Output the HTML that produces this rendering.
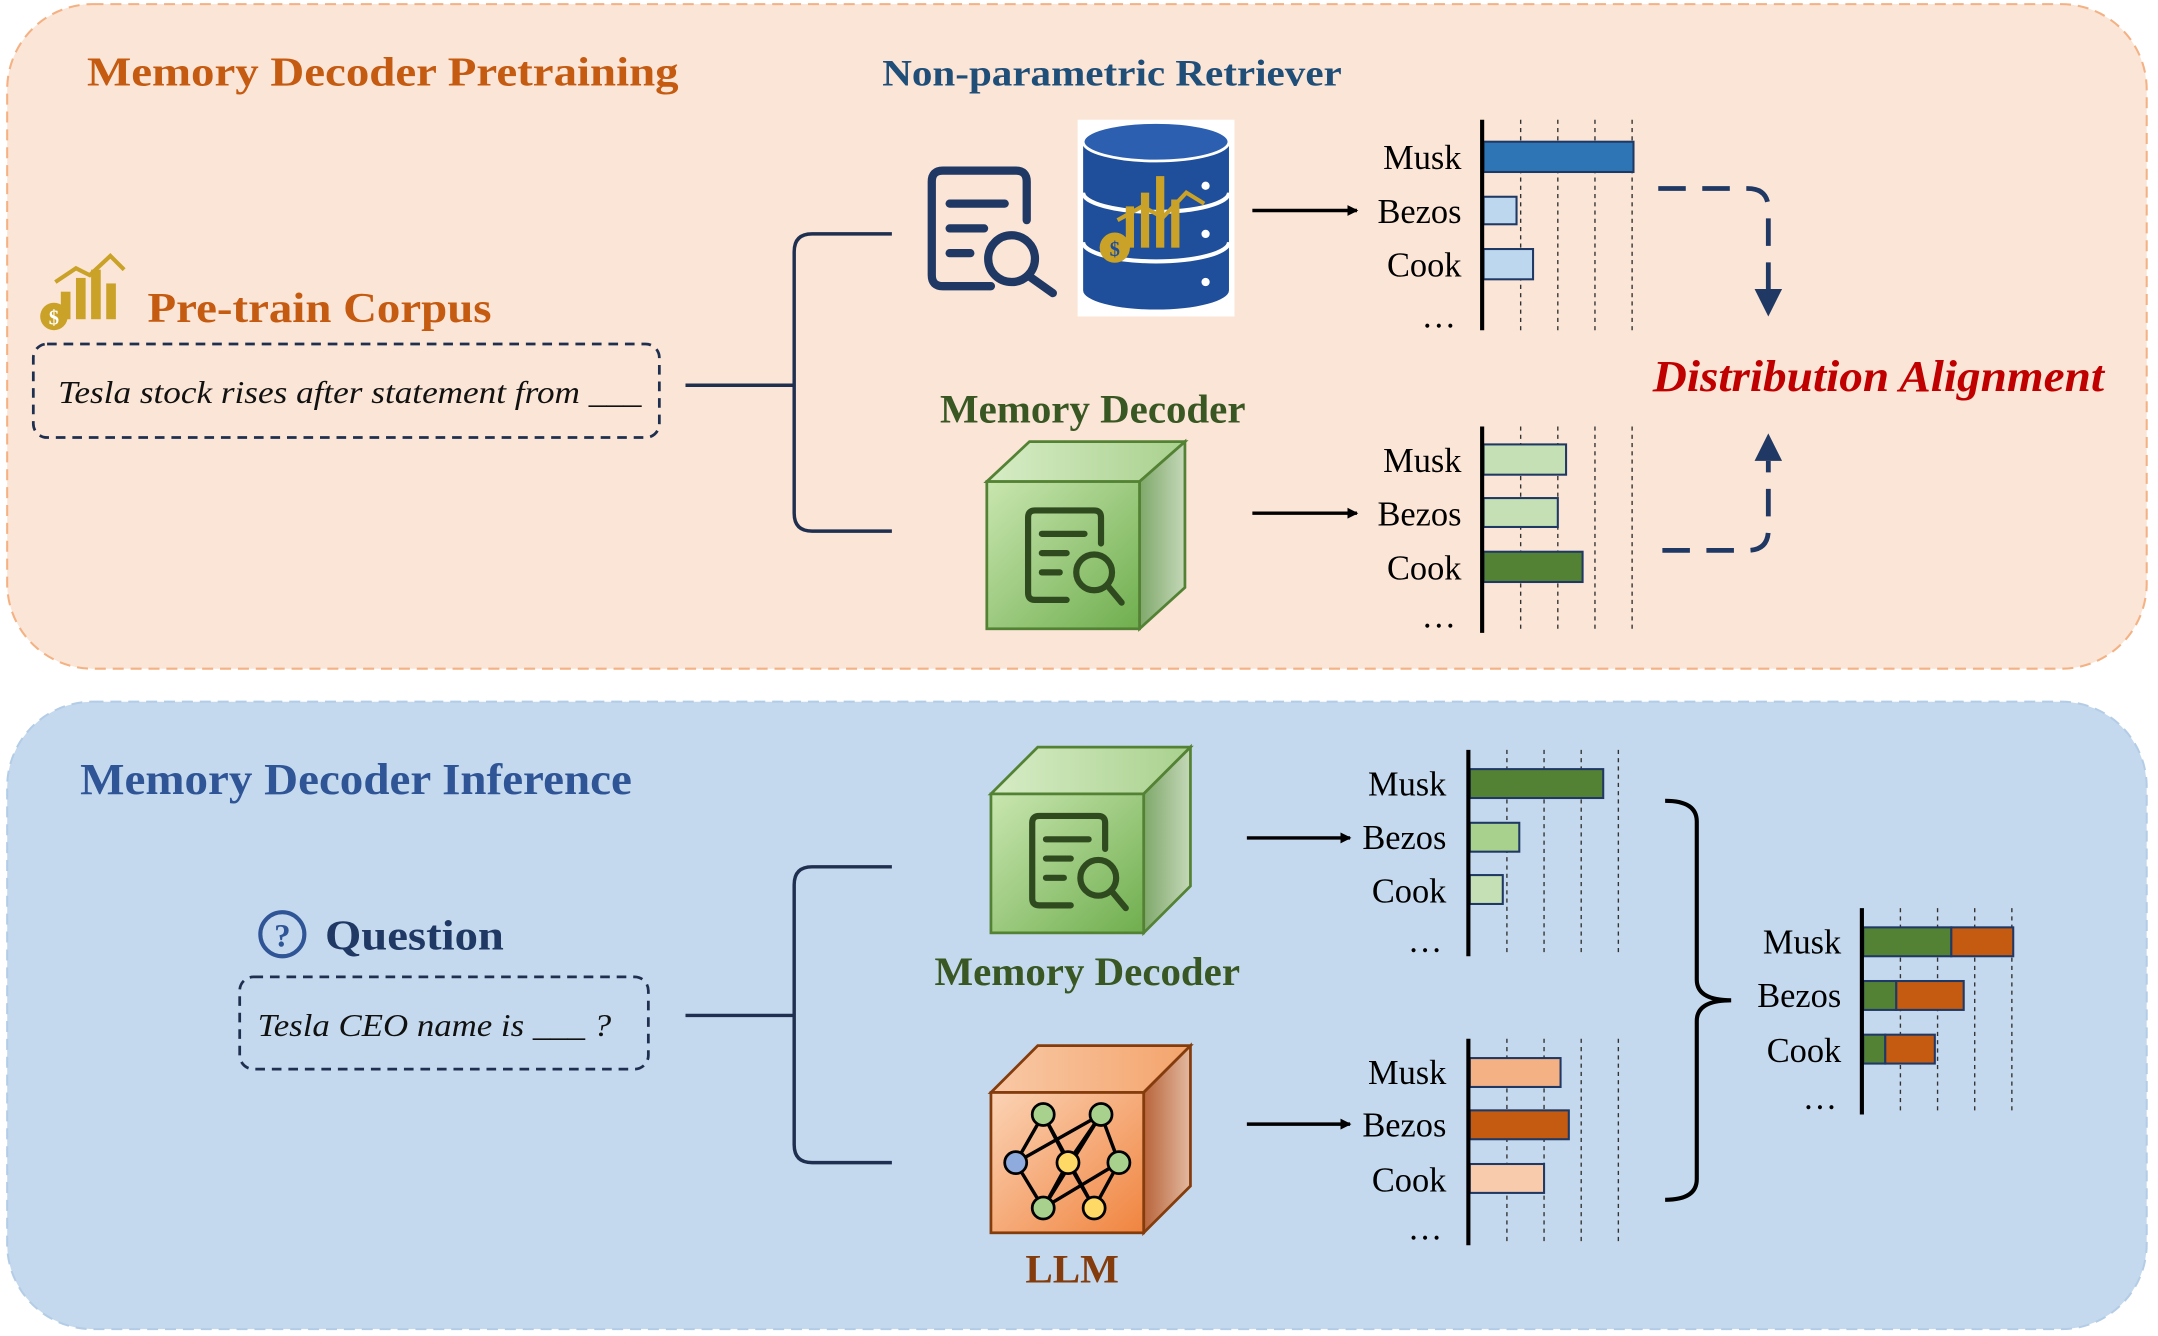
<!DOCTYPE html>
<html><head><meta charset="utf-8"><style>
html,body{margin:0;padding:0;background:#fff;}
svg{display:block;}
text{font-family:"Liberation Serif",serif;}
</style></head><body>
<svg width="2158" height="1336" viewBox="0 0 1568 971" xmlns="http://www.w3.org/2000/svg">
<defs>
<linearGradient id="gF" x1="0" y1="0" x2="1" y2="1"><stop offset="0" stop-color="#c9e6b0"/><stop offset="1" stop-color="#6fae4e"/></linearGradient>
<linearGradient id="gT" x1="0" y1="0" x2="1" y2="0"><stop offset="0" stop-color="#d7ecc6"/><stop offset="1" stop-color="#a9d18e"/></linearGradient>
<linearGradient id="gR" x1="0" y1="0" x2="1" y2="0"><stop offset="0" stop-color="#7fa86a"/><stop offset="1" stop-color="#c4d8b8"/></linearGradient>
<linearGradient id="oF" x1="0" y1="0" x2="1" y2="1"><stop offset="0" stop-color="#fbd3b5"/><stop offset="1" stop-color="#f0843f"/></linearGradient>
<linearGradient id="oT" x1="0" y1="0" x2="1" y2="0"><stop offset="0" stop-color="#f8c9a6"/><stop offset="1" stop-color="#f4a46c"/></linearGradient>
<linearGradient id="oR" x1="0" y1="0" x2="1" y2="0"><stop offset="0" stop-color="#b8643a"/><stop offset="1" stop-color="#e3b9a0"/></linearGradient>
<marker id="ah" markerWidth="8" markerHeight="8" refX="7" refY="4" orient="auto" markerUnits="userSpaceOnUse"><path d="M0,0 L8,4 L0,8 z" fill="#000"/></marker>
</defs>

<rect x="5" y="3" width="1555" height="483" rx="62" fill="#fbe5d6" stroke="#f4b183" stroke-width="1.5" stroke-dasharray="8,5"/>
<rect x="5" y="510" width="1555" height="456" rx="62" fill="#c5d9ee" stroke="#b4cde6" stroke-width="1.5" stroke-dasharray="8,5"/>

<text x="63" y="62" font-size="30" font-weight="bold" fill="#c55a11" textLength="430" lengthAdjust="spacingAndGlyphs">Memory Decoder Pretraining</text>
<text x="641" y="62" font-size="27" font-weight="bold" fill="#1f4e79" textLength="334" lengthAdjust="spacingAndGlyphs">Non-parametric Retriever</text>

<g fill="#c9a227">
<rect x="44" y="212" width="7" height="20"/><rect x="55" y="202" width="7" height="30"/><rect x="66" y="196" width="7" height="36"/><rect x="77" y="206" width="7" height="26"/>
<polyline points="40,205 55,195 65,200 80,186 90,196" fill="none" stroke="#c9a227" stroke-width="3"/>
<circle cx="39" cy="230" r="10"/>
</g>
<text x="39" y="236" font-size="15" font-weight="bold" fill="#fff" text-anchor="middle">$</text>
<text x="107" y="234" font-size="31" font-weight="bold" fill="#c55a11" textLength="250" lengthAdjust="spacingAndGlyphs">Pre-train Corpus</text>
<rect x="24" y="250" width="455" height="68" rx="10" fill="none" stroke="#1f2f4f" stroke-width="2" stroke-dasharray="7,5"/>
<text x="42" y="293" font-size="23" font-style="italic" fill="#111" textLength="424" lengthAdjust="spacingAndGlyphs">Tesla stock rises after statement from ___</text>

<g fill="none" stroke="#1f2f4f" stroke-width="2.5">
<line x1="498" y1="280" x2="577" y2="280"/>
<path d="M648,170 H590 Q577,170 577,183 V373 Q577,386 590,386 H648"/>
</g>

<g fill="none" stroke="#1f3864" stroke-width="6" stroke-linecap="round" stroke-linejoin="round">
<path d="M720,208 H685 Q677,208 677,200 V132 Q677,124 685,124 H738 Q746,124 746,132 V160"/>
<line x1="690" y1="148" x2="730" y2="148"/><line x1="690" y1="166" x2="715" y2="166"/><line x1="690" y1="184" x2="705" y2="184"/>
<circle cx="735" cy="188" r="17"/><line x1="748" y1="201" x2="765" y2="213"/>
</g>

<rect x="783" y="87" width="114" height="143" fill="#fff"/>
<path d="M787,103 a53,14 0 0 1 106,0 v108 a53,14 0 0 1 -106,0 z" fill="#1f4e9a"/>
<ellipse cx="840" cy="103" rx="53" ry="14" fill="#2c5fb0" stroke="#fff" stroke-width="2"/>
<g stroke="#fff" stroke-width="3" fill="none">
<path d="M787,140 a53,14 0 0 0 106,0"/><path d="M787,176 a53,14 0 0 0 106,0"/>
</g>
<g fill="#fff"><circle cx="876" cy="135" r="3"/><circle cx="876" cy="170" r="3"/><circle cx="876" cy="205" r="3"/></g>
<g fill="#c9a227"><rect x="818" y="150" width="6" height="30"/><rect x="829" y="140" width="6" height="40"/><rect x="840" y="128" width="6" height="52"/><rect x="851" y="145" width="6" height="35"/>
<circle cx="810" cy="180" r="11"/></g>
<polyline points="812,160 830,150 845,158 862,140 875,148" fill="none" stroke="#c9a227" stroke-width="3"/>
<text x="810" y="186" font-size="15" font-weight="bold" fill="#1f4e9a" text-anchor="middle">$</text>

<line x1="910" y1="153" x2="986" y2="153" stroke="#000" stroke-width="2.5" marker-end="url(#ah)"/>

<g stroke="#333" stroke-width="1" stroke-dasharray="3,3"><line x1="1105" y1="87" x2="1105" y2="240"/><line x1="1132" y1="87" x2="1132" y2="240"/><line x1="1159" y1="87" x2="1159" y2="240"/><line x1="1186" y1="87" x2="1186" y2="240"/></g>
<g stroke="#1f3864" stroke-width="1.5">
<rect x="1078" y="103" width="109" height="22" fill="#2e75b6"/>
<rect x="1078" y="143" width="24" height="20" fill="#bdd7ee"/>
<rect x="1078" y="181" width="36" height="22" fill="#bdd7ee"/>
</g>
<line x1="1077" y1="87" x2="1077" y2="240" stroke="#000" stroke-width="3"/>
<g font-size="25" text-anchor="end" fill="#000"><text x="1062" y="123">Musk</text><text x="1062" y="162">Bezos</text><text x="1062" y="201">Cook</text><text x="1058" y="238">…</text></g>

<g fill="none" stroke="#1f3864" stroke-width="3.5" stroke-dasharray="20,12">
<path d="M1205,137 H1270 Q1285,137 1285,152 V210"/>
<path d="M1208,400 H1270 Q1285,400 1285,385 V335"/>
</g>
<path d="M1275,210 L1295,210 L1285,230 z" fill="#1f3864"/>
<path d="M1275,335 L1295,335 L1285,315 z" fill="#1f3864"/>
<text x="1201" y="284" font-size="32" font-weight="bold" font-style="italic" fill="#c00000" textLength="328" lengthAdjust="spacingAndGlyphs">Distribution Alignment</text>

<text x="683" y="307" font-size="29" font-weight="bold" fill="#385723" textLength="222" lengthAdjust="spacingAndGlyphs">Memory Decoder</text>
<g stroke="#548235" stroke-width="2">
<path d="M717,350 L748,321 L861,321 L828,350 z" fill="url(#gT)"/>
<path d="M828,350 L861,321 L861,427 L828,457 z" fill="url(#gR)"/>
<rect x="717" y="350" width="111" height="107" fill="url(#gF)"/>
</g>
<g fill="none" stroke="#2f4a1f" stroke-width="4.5" stroke-linecap="round" stroke-linejoin="round">
<path d="M775,436 H752 Q747,436 747,431 V376 Q747,371 752,371 H795 Q800,371 800,376 V395"/>
<line x1="757" y1="388" x2="788" y2="388"/><line x1="757" y1="402" x2="775" y2="402"/><line x1="757" y1="416" x2="770" y2="416"/>
<circle cx="795" cy="416" r="13"/><line x1="805" y1="426" x2="815" y2="438"/>
</g>

<line x1="910" y1="373" x2="986" y2="373" stroke="#000" stroke-width="2.5" marker-end="url(#ah)"/>

<g stroke="#333" stroke-width="1" stroke-dasharray="3,3"><line x1="1105" y1="310" x2="1105" y2="460"/><line x1="1132" y1="310" x2="1132" y2="460"/><line x1="1159" y1="310" x2="1159" y2="460"/><line x1="1186" y1="310" x2="1186" y2="460"/></g>
<g stroke="#1f3864" stroke-width="1.5">
<rect x="1078" y="323" width="60" height="22" fill="#c5e0b4"/>
<rect x="1078" y="362" width="54" height="21" fill="#c5e0b4"/>
<rect x="1078" y="401" width="72" height="22" fill="#548235"/>
</g>
<line x1="1077" y1="310" x2="1077" y2="460" stroke="#000" stroke-width="3"/>
<g font-size="25" text-anchor="end" fill="#000"><text x="1062" y="343">Musk</text><text x="1062" y="382">Bezos</text><text x="1062" y="421">Cook</text><text x="1058" y="456">…</text></g>

<text x="58" y="577" font-size="32" font-weight="bold" fill="#2f5597" textLength="401" lengthAdjust="spacingAndGlyphs">Memory Decoder Inference</text>
<circle cx="205" cy="679" r="16" fill="none" stroke="#2f5597" stroke-width="3"/>
<text x="205" y="688" font-size="24" font-weight="bold" fill="#2f5597" text-anchor="middle">?</text>
<text x="236" y="690" font-size="31" font-weight="bold" fill="#1f3864" textLength="130" lengthAdjust="spacingAndGlyphs">Question</text>
<rect x="174" y="710" width="297" height="67" rx="10" fill="none" stroke="#1f2f4f" stroke-width="2" stroke-dasharray="7,5"/>
<text x="187" y="753" font-size="23" font-style="italic" fill="#111" textLength="257" lengthAdjust="spacingAndGlyphs">Tesla CEO name is ___ ?</text>

<g fill="none" stroke="#1f2f4f" stroke-width="2.5">
<line x1="498" y1="738" x2="577" y2="738"/>
<path d="M648,630 H590 Q577,630 577,643 V832 Q577,845 590,845 H648"/>
</g>

<g stroke="#548235" stroke-width="2">
<path d="M720,577 L754,543 L865,543 L831,577 z" fill="url(#gT)"/>
<path d="M831,577 L865,543 L865,644 L831,678 z" fill="url(#gR)"/>
<rect x="720" y="577" width="111" height="101" fill="url(#gF)"/>
</g>
<g fill="none" stroke="#2f4a1f" stroke-width="4.5" stroke-linecap="round" stroke-linejoin="round">
<path d="M778,658 H755 Q750,658 750,653 V598 Q750,593 755,593 H798 Q803,593 803,598 V617"/>
<line x1="760" y1="610" x2="791" y2="610"/><line x1="760" y1="624" x2="778" y2="624"/><line x1="760" y1="638" x2="773" y2="638"/>
<circle cx="798" cy="638" r="13"/><line x1="808" y1="648" x2="818" y2="660"/>
</g>
<text x="679" y="716" font-size="29" font-weight="bold" fill="#385723" textLength="222" lengthAdjust="spacingAndGlyphs">Memory Decoder</text>

<g stroke="#843c0c" stroke-width="2">
<path d="M720,794 L754,760 L865,760 L831,794 z" fill="url(#oT)"/>
<path d="M831,794 L865,760 L865,862 L831,896 z" fill="url(#oR)"/>
<rect x="720" y="794" width="111" height="102" fill="url(#oF)"/>
</g>
<g stroke="#000" stroke-width="2.5">
<line x1="758" y1="810" x2="738" y2="845"/><line x1="758" y1="810" x2="776" y2="845"/><line x1="758" y1="810" x2="795" y2="878"/>
<line x1="800" y1="810" x2="776" y2="845"/><line x1="800" y1="810" x2="813" y2="845"/><line x1="800" y1="810" x2="758" y2="878"/>
<line x1="738" y1="845" x2="758" y2="878"/><line x1="776" y1="845" x2="758" y2="878"/><line x1="776" y1="845" x2="795" y2="878"/><line x1="813" y1="845" x2="795" y2="878"/><line x1="738" y1="845" x2="800" y2="810"/><line x1="813" y1="845" x2="758" y2="878"/>
</g>
<g stroke="#000" stroke-width="2">
<circle cx="758" cy="810" r="8" fill="#a9d18e"/><circle cx="800" cy="810" r="8" fill="#a9d18e"/>
<circle cx="738" cy="845" r="8" fill="#8faadc"/><circle cx="776" cy="845" r="8" fill="#ffd966"/><circle cx="813" cy="845" r="8" fill="#a9d18e"/>
<circle cx="758" cy="878" r="8" fill="#a9d18e"/><circle cx="795" cy="878" r="8" fill="#ffd966"/>
</g>
<text x="745" y="932" font-size="29" font-weight="bold" fill="#843c0c" textLength="68" lengthAdjust="spacingAndGlyphs">LLM</text>

<line x1="906" y1="609" x2="981" y2="609" stroke="#000" stroke-width="2.5" marker-end="url(#ah)"/>
<line x1="906" y1="817" x2="981" y2="817" stroke="#000" stroke-width="2.5" marker-end="url(#ah)"/>

<g stroke="#333" stroke-width="1" stroke-dasharray="3,3"><line x1="1095" y1="545" x2="1095" y2="695"/><line x1="1122" y1="545" x2="1122" y2="695"/><line x1="1149" y1="545" x2="1149" y2="695"/><line x1="1176" y1="545" x2="1176" y2="695"/></g>
<g stroke="#1f3864" stroke-width="1.5">
<rect x="1068" y="559" width="97" height="21" fill="#548235"/>
<rect x="1068" y="598" width="36" height="21" fill="#a9d18e"/>
<rect x="1068" y="636" width="24" height="21" fill="#c5e0b4"/>
</g>
<line x1="1067" y1="545" x2="1067" y2="695" stroke="#000" stroke-width="3"/>
<g font-size="25" text-anchor="end" fill="#000"><text x="1051" y="578">Musk</text><text x="1051" y="617">Bezos</text><text x="1051" y="656">Cook</text><text x="1048" y="692">…</text></g>

<g stroke="#333" stroke-width="1" stroke-dasharray="3,3"><line x1="1095" y1="755" x2="1095" y2="905"/><line x1="1122" y1="755" x2="1122" y2="905"/><line x1="1149" y1="755" x2="1149" y2="905"/><line x1="1176" y1="755" x2="1176" y2="905"/></g>
<g stroke="#1f3864" stroke-width="1.5">
<rect x="1068" y="769" width="66" height="21" fill="#f4b183"/>
<rect x="1068" y="807" width="72" height="21" fill="#c55a11"/>
<rect x="1068" y="846" width="54" height="21" fill="#f8cbad"/>
</g>
<line x1="1067" y1="755" x2="1067" y2="905" stroke="#000" stroke-width="3"/>
<g font-size="25" text-anchor="end" fill="#000"><text x="1051" y="788">Musk</text><text x="1051" y="826">Bezos</text><text x="1051" y="866">Cook</text><text x="1048" y="901">…</text></g>

<path d="M1210,582 Q1233,582 1233,597 V712 Q1233,727 1258,727 Q1233,727 1233,742 V857 Q1233,872 1210,872" fill="none" stroke="#000" stroke-width="3"/>

<g stroke="#333" stroke-width="1" stroke-dasharray="3,3"><line x1="1381" y1="660" x2="1381" y2="810"/><line x1="1408" y1="660" x2="1408" y2="810"/><line x1="1435" y1="660" x2="1435" y2="810"/><line x1="1462" y1="660" x2="1462" y2="810"/></g>
<g stroke="#1f3864" stroke-width="1.5">
<rect x="1354" y="674" width="64" height="21" fill="#548235"/><rect x="1418" y="674" width="45" height="21" fill="#c55a11"/>
<rect x="1354" y="713" width="24" height="21" fill="#548235"/><rect x="1378" y="713" width="49" height="21" fill="#c55a11"/>
<rect x="1354" y="752" width="16" height="21" fill="#548235"/><rect x="1370" y="752" width="36" height="21" fill="#c55a11"/>
</g>
<line x1="1353" y1="660" x2="1353" y2="810" stroke="#000" stroke-width="3"/>
<g font-size="25" text-anchor="end" fill="#000"><text x="1338" y="693">Musk</text><text x="1338" y="732">Bezos</text><text x="1338" y="772">Cook</text><text x="1335" y="806">…</text></g>
</svg>
</body></html>
